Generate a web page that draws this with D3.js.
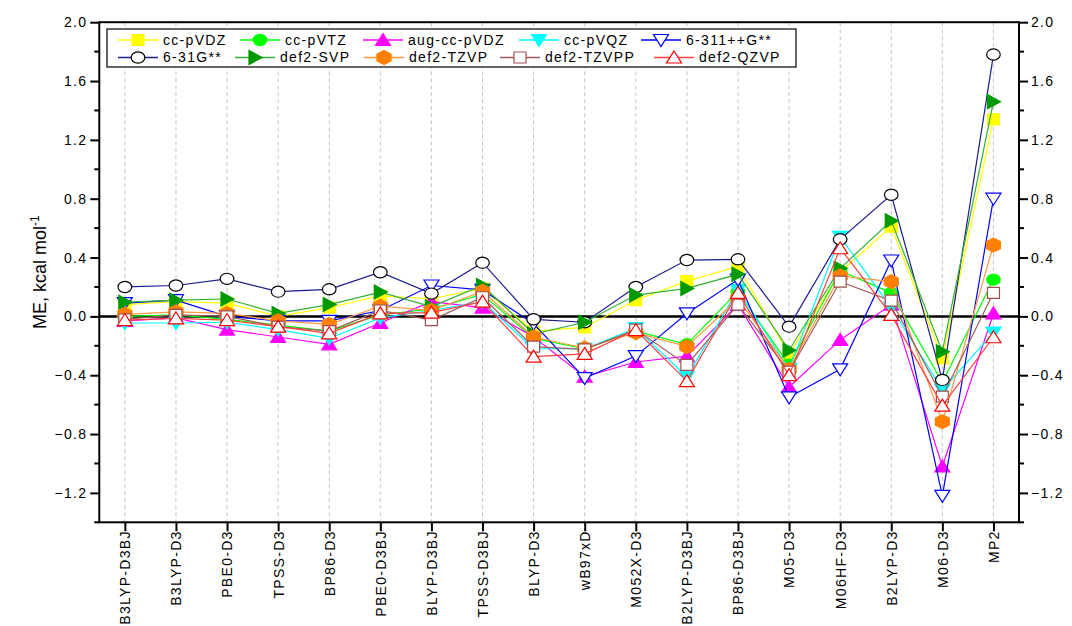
<!DOCTYPE html>
<html><head><meta charset="utf-8">
<script src="https://cdn.jsdelivr.net/npm/d3@7"></script>
<style>
html,body{margin:0;padding:0;background:#fff;}
svg{display:block;font-family:"Liberation Sans",Arial,sans-serif;}
</style></head>
<body>
<svg id="chart" width="1072" height="626"></svg>
<script>
const categories = ["B3LYP-D3BJ","B3LYP-D3","PBE0-D3","TPSS-D3","BP86-D3","PBE0-D3BJ","BLYP-D3BJ","TPSS-D3BJ","BLYP-D3","wB97xD","M052X-D3","B2LYP-D3BJ","BP86-D3BJ","M05-D3","M06HF-D3","B2LYP-D3","M06-D3","MP2"];
const yTicks = [-1.2,-0.8,-0.4,0.0,0.4,0.8,1.2,1.6,2.0];
const seriesNames = ["cc-pVDZ","cc-pVTZ","aug-cc-pVDZ","cc-pVQZ","6-311++G**","6-31G**","def2-SVP","def2-TZVP","def2-TZVPP","def2-QZVP"];

const ccpVDZ   = [0.08,0.10,0.09,0.00,0.06,0.14,0.12,0.19,-0.10,-0.075,0.11,0.24,0.34,-0.26,0.30,0.61,-0.285,1.34];
const ccpVTZ   = [0.00,0.01,-0.02,-0.06,-0.10,0.01,0.05,0.15,-0.15,-0.22,-0.10,-0.19,0.17,-0.33,0.31,0.16,-0.45,0.25];
const augccpVDZ= [-0.03,-0.01,-0.09,-0.14,-0.19,-0.045,0.10,0.06,-0.14,-0.41,-0.31,-0.27,0.08,-0.48,-0.16,0.08,-1.02,0.02];
const ccpVQZ   = [-0.045,-0.045,-0.04,-0.09,-0.15,-0.01,0.04,0.10,-0.22,-0.22,-0.08,-0.41,0.18,-0.36,0.54,0.06,-0.50,-0.11];
const b6311    = [0.09,0.11,0.00,-0.03,-0.03,0.04,0.21,0.18,-0.05,-0.42,-0.27,0.02,0.25,-0.55,-0.36,0.38,-1.22,0.80];
const b631     = [0.20,0.21,0.255,0.168,0.184,0.30,0.155,0.365,-0.02,-0.04,0.20,0.383,0.388,-0.07,0.524,0.827,-0.432,1.78];
const def2SVP  = [0.096,0.11,0.118,0.02,0.08,0.165,0.066,0.21,-0.12,-0.04,0.145,0.19,0.286,-0.23,0.327,0.65,-0.24,1.46];
const def2TZVP = [0.014,0.03,0.02,-0.03,-0.055,0.07,0.04,0.17,-0.14,-0.215,-0.11,-0.206,0.12,-0.36,0.275,0.236,-0.716,0.485];
const def2TZVPP= [-0.02,0.01,0.00,-0.07,-0.10,0.04,-0.025,0.13,-0.206,-0.224,-0.09,-0.33,0.08,-0.376,0.236,0.107,-0.546,0.16];
const def2QZVP = [-0.025,-0.013,-0.025,-0.07,-0.115,0.02,0.025,0.10,-0.274,-0.255,-0.093,-0.44,0.16,-0.40,0.463,0.01,-0.607,-0.142];

const seriesValues = [ccpVDZ,ccpVTZ,augccpVDZ,ccpVQZ,b6311,b631,def2SVP,def2TZVP,def2TZVPP,def2QZVP];

// styles (line colour, marker shape, fill, stroke)
const styles = [
  {line:"#ffff00", shape:"square", fill:"#ffff00", stroke:"#ffff00"},
  {line:"#00ff00", shape:"circle", fill:"#00ff00", stroke:"#00ff00"},
  {line:"#ff00ff", shape:"up", fill:"#ff00ff", stroke:"#ff00ff"},
  {line:"#00ffff", shape:"down", fill:"#00ffff", stroke:"#00ffff"},
  {line:"#0000ff", shape:"down", fill:"#ffffff", stroke:"#0000ff"},
  {line:"#1c1c8c", shape:"circle", fill:"#ffffff", stroke:"#000000"},
  {line:"#33b033", shape:"right", fill:"#009900", stroke:"#009900"},
  {line:"#ff9a44", shape:"hex", fill:"#ff8000", stroke:"#ff8000"},
  {line:"#a05a5a", shape:"square", fill:"#ffffff", stroke:"#a05050"},
  {line:"#ff4040", shape:"up", fill:"#ffffff", stroke:"#ff0000"}
];

function shapePath(s){
  switch(s){
    case "square": return "M-6,-5.5L6,-5.5L6,5.5L-6,5.5Z";
    case "up": return "M0,-6.5L7.5,5.5L-7.5,5.5Z";
    case "down": return "M-7.5,-5.5L7.5,-5.5L0,6.5Z";
    case "right": return "M-6,-7L7,0L-6,7Z";
    case "hex": return "M0,-7L7,-3.5L7,3.5L0,7L-7,3.5L-7,-3.5Z";
  }
}

const svg = d3.select("#chart");
const L = 99.3, R = 1019, T = 22.2, B = 522.3;
const x = d3.scaleLinear().domain([-0.5, categories.length-0.5]).range([L, R]);
const y = d3.scaleLinear().domain([-1.4, 2.0]).range([B, T]);

// vertical dashed grid
svg.append("g").selectAll("line").data(categories).join("line")
  .attr("x1",(d,i)=>x(i)).attr("x2",(d,i)=>x(i))
  .attr("y1",T).attr("y2",B)
  .attr("stroke","#c4c4c4").attr("stroke-width",1).attr("stroke-dasharray","4,3");

// zero line
svg.append("line").attr("x1",L).attr("x2",R).attr("y1",y(0)).attr("y2",y(0))
  .attr("stroke","#000").attr("stroke-width",2.5);

// series
const lineGen = d3.line().x((d,i)=>x(i)).y(d=>y(d));
seriesValues.forEach((vals,k)=>{
  const st = styles[k];
  const g = svg.append("g");
  g.append("path").datum(vals).attr("d",lineGen)
    .attr("fill","none").attr("stroke",st.line).attr("stroke-width",1.2);
  drawMarkers(g, vals.map((v,i)=>[x(i),y(v)]), st);
});

function drawMarkers(g, pts, st){
  if(st.shape==="circle"){
    g.selectAll("ellipse.m").data(pts).join("ellipse").attr("class","m")
      .attr("cx",d=>d[0]).attr("cy",d=>d[1]).attr("rx",6.8).attr("ry",5.6)
      .attr("fill",st.fill).attr("stroke",st.stroke).attr("stroke-width",1.2);
  } else {
    g.selectAll("path.m").data(pts).join("path").attr("class","m")
      .attr("d",shapePath(st.shape)).attr("transform",d=>`translate(${d[0]},${d[1]})`)
      .attr("fill",st.fill).attr("stroke",st.stroke).attr("stroke-width",1.2);
  }
}

// axes
const fmt = d3.format(".1f");
const yMinor = d3.range(-1.4, 2.01, 0.2).map(v=>+v.toFixed(1));
const axL = d3.axisLeft(y).tickValues(yTicks).tickFormat(fmt).tickSize(9).tickPadding(4);
const axR = d3.axisRight(y).tickValues(yTicks).tickFormat(fmt).tickSize(9).tickPadding(4);
const axB = d3.axisBottom(x).tickValues(d3.range(categories.length)).tickFormat(i=>categories[i]).tickSize(9);

function styleAxis(g){
  g.select(".domain").remove();
  g.selectAll(".tick line").attr("stroke","#000").attr("stroke-width",2);
  g.selectAll("text").attr("font-size",14).attr("fill","#000").style("letter-spacing","1.3px");
}
const gl = svg.append("g").attr("transform",`translate(${L},0)`).call(axL).call(styleAxis);
const gr = svg.append("g").attr("transform",`translate(${R},0)`).call(axR).call(styleAxis);
gl.selectAll("text").attr("x",-12);
gr.selectAll("text").attr("x",12);
// minor ticks
[[L,-1],[R,1]].forEach(([xx,dir])=>{
  svg.append("g").selectAll("line").data(yMinor.filter(v=>!yTicks.some(t=>Math.abs(t-v)<1e-6))).join("line")
    .attr("x1",xx).attr("x2",xx+dir*5).attr("y1",d=>y(d)).attr("y2",d=>y(d))
    .attr("stroke","#000").attr("stroke-width",2);
});
const gb = svg.append("g").attr("transform",`translate(0,${B})`).call(axB).call(styleAxis);
gb.selectAll("text").attr("transform","rotate(-90)").attr("text-anchor","end")
  .attr("x",-8).attr("y",0).attr("dy","0.35em");

// frame
svg.append("rect").attr("x",L).attr("y",T).attr("width",R-L).attr("height",B-T)
  .attr("fill","none").attr("stroke","#000").attr("stroke-width",2);

// y title
const yt = svg.append("text").attr("transform",`translate(46,${(T+B)/2}) rotate(-90)`)
  .attr("text-anchor","middle").attr("font-size",18).attr("fill","#000");
yt.append("tspan").text("ME, kcal mol");
yt.append("tspan").attr("dy",-7).attr("font-size",12).text("-1");

// legend
const legRows = [[0,1,2,3,4],[5,6,7,8,9]];
const legX = [[118,240,363,519,641],[118,235,364,500,654]];
const legY = [40,57.5];
svg.append("rect").attr("x",107).attr("y",29).attr("width",689).attr("height",38)
  .attr("fill","#fff").attr("stroke","#000").attr("stroke-width",1.2);
legRows.forEach((row,r)=>{
  row.forEach((k,c)=>{
    const st = styles[k];
    const x0 = legX[r][c], yy = legY[r];
    const g = svg.append("g");
    g.append("line").attr("x1",x0).attr("x2",x0+40).attr("y1",yy).attr("y2",yy)
      .attr("stroke",st.line).attr("stroke-width",1.5);
    drawMarkers(g, [[x0+20,yy]], st);
    g.append("text").attr("x",x0+45).attr("y",yy).attr("dy","0.35em")
      .attr("font-size",14).style("letter-spacing","1.3px").text(seriesNames[k]);
  });
});
</script>
</body></html>
